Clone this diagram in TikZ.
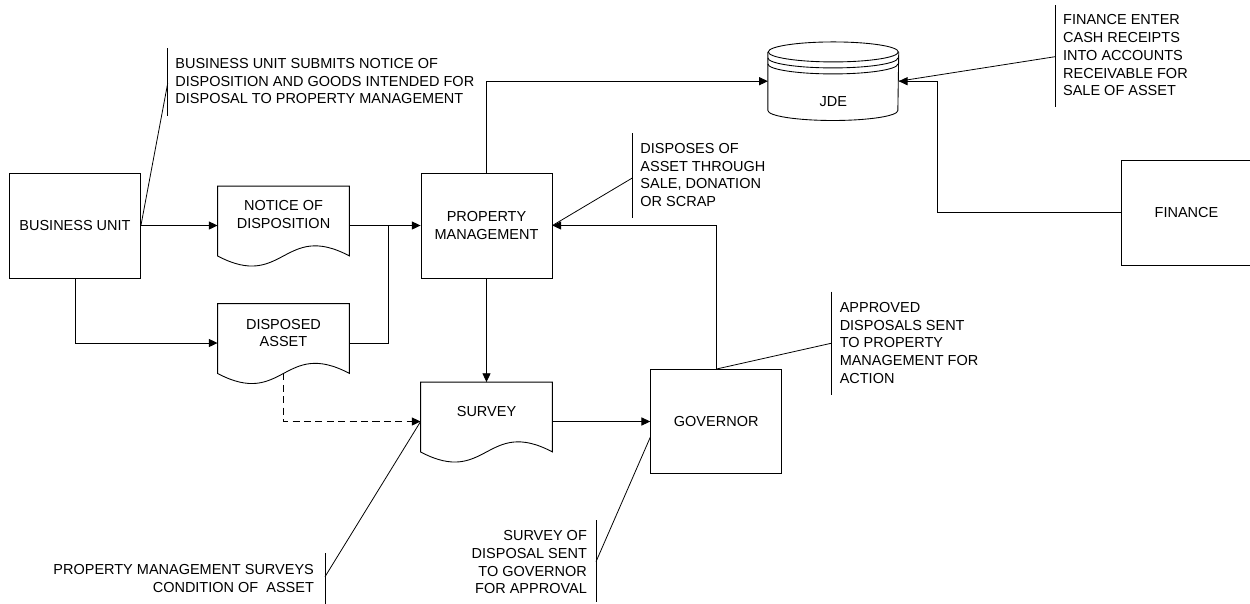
\documentclass[tikz,border=0pt]{standalone}
\usepackage{fontspec}
\setmainfont{Liberation Sans}
\usetikzlibrary{arrows.meta,calc}

% outline of a flowchart "document" symbol drawn around an empty node
\newcommand\docoutline[1]{%
  \draw (#1.north west) -- (#1.north east) -- ($(#1.south east)+(0,-9)$)
    .. controls ($(#1.south)+(0,-44)$) and ($(#1.south)+(0,26)$) ..
    ($(#1.south west)+(0,-9)$) -- cycle;}

\begin{document}
\begin{tikzpicture}[x=0.02cm,y=-0.02cm,
  line width=0.5pt,
  every node/.style={font=\fontsize{8.25}{10.1}\selectfont, inner sep=0pt},
  procbox/.style={draw, minimum width=2.62cm, minimum height=2.1cm, align=center},
  docarea/.style={minimum width=2.62cm, minimum height=1.56cm},
  doclabel/.style={align=center},
  flow/.style={-{Triangle[length=5pt,width=4.6pt]}},
  leader/.style={line width=0.45pt},
  bracket/.style={line width=0.5pt},
  note/.style={align=left, anchor=west},
  rnote/.style={align=right, anchor=east}]

\useasboundingbox (0,0) rectangle (1250,603);

% process boxes
\node[procbox] (bu) at (75,225.5) {BUSINESS UNIT};
\node[procbox] (pm) at (486.5,225.5) {PROPERTY\\MANAGEMENT};
\node[procbox, minimum height=2.08cm] (gov) at (716.2,421.5) {GOVERNOR};
\node[procbox] (fin) at (1186.5,212.5) {FINANCE};

% document symbols
\node[docarea] (notice) at (283.5,225.5) {};
\docoutline{notice}
\node[doclabel] (noticetext) at ($(notice.center)+(0,-11)$) {NOTICE OF\\DISPOSITION};

\node[docarea] (disposed) at (283.5,343) {};
\docoutline{disposed}
\node[doclabel] (disposedtext) at ($(disposed.center)+(0,-10)$) {DISPOSED\\ASSET};

\node[docarea] (survey) at (486.5,421.5) {};
\docoutline{survey}
\node[doclabel] (surveytext) at ($(survey.center)+(0,-10)$) {SURVEY};

% JDE database cylinder
\node[minimum width=2.6cm, minimum height=1.554cm] (jde) at (833.3,81.2) {};
\draw ($(jde.north west)+(0,10)$) -- ($(jde.south west)+(0,-10)$)
  arc[start angle=180, end angle=360, x radius=1.3cm, y radius=0.2cm]
  -- ($(jde.north east)+(0,10)$);
\draw ($(jde.north)+(0,10)$) ellipse[x radius=1.3cm, y radius=0.2cm];
\draw ($(jde.north west)+(0,16)$) arc[start angle=180, end angle=360, x radius=1.3cm, y radius=0.2cm];
\draw ($(jde.north west)+(0,22)$) arc[start angle=180, end angle=360, x radius=1.3cm, y radius=0.2cm];
\node (jdetext) at ($(jde.center)+(0,20.5)$) {JDE};

% flow connectors
\coordinate (merge) at (388,225.5);
\coordinate (finturn) at (937.7,81.2);
\draw[flow] (bu.east) -- (notice.west);
\draw[flow] (bu.south) |- (disposed.west);
\draw[flow] (notice.east) -- (pm.west);
\draw (disposed.east) -| (merge);
\draw[flow] (pm.north) |- (jde.west);
\draw[flow] (pm.south) -- (survey.north);
\draw[flow] (survey.east) -- (gov.west);
\draw[flow] (gov.north) |- (pm.east);
\draw[flow] (fin.west) -| (finturn) -- (jde.east);
\draw[flow, dash pattern=on 4pt off 2.5pt] ($(disposed.south)+(0,-9)$) |- (survey.west);

% annotations
\draw[bracket] (167.7,48.3) -- (167.7,115.7);
\node[note] (bunote) at (175,81.2) {BUSINESS UNIT SUBMITS NOTICE OF\\DISPOSITION AND GOODS INTENDED FOR\\DISPOSAL TO PROPERTY MANAGEMENT};
\coordinate (bulead) at (167.7,83.3);
\draw[leader] (bulead) -- (bu.east);

\draw[bracket] (632.3,133) -- (632.3,218);
\node[note] (pmnote) at (640,175) {DISPOSES OF\\ASSET THROUGH\\SALE, DONATION\\OR SCRAP};
\coordinate (pmlead) at (632.3,178);
\draw[leader] (pmlead) -- (pm.east);

\draw[bracket] (1055,5) -- (1055,107);
\node[note] (finnote) at (1062.7,55.3) {FINANCE ENTER\\CASH RECEIPTS\\INTO ACCOUNTS\\RECEIVABLE FOR\\SALE OF ASSET};
\coordinate (finlead) at (1055,56.7);
\draw[leader] (finlead) -- (jde.east);

\draw[bracket] (831,291.7) -- (831,395);
\node[note] (govnote) at (839.3,342.8) {APPROVED\\DISPOSALS SENT\\TO PROPERTY\\MANAGEMENT FOR\\ACTION};
\coordinate (govlead) at (831,343.3);
\draw[leader] (govlead) -- (gov.north);

\draw[bracket] (325,553.3) -- (325,605);
\node[rnote] (surveynote) at (314.3,578.3) {PROPERTY MANAGEMENT SURVEYS\\CONDITION OF\ \ ASSET};
\coordinate (surveylead) at (325,576.7);
\draw[leader] (surveylead) -- (survey.west);

\draw[bracket] (596,520) -- (596,601.7);
\node[rnote] (sentnote) at (587.3,562.2) {SURVEY OF\\DISPOSAL SENT\\TO GOVERNOR\\FOR APPROVAL};
\coordinate (sentlead) at (596,561.7);
\draw[leader] (sentlead) -- ($(gov.south west)!0.35!(gov.north west)$);
\end{tikzpicture}
\end{document}
